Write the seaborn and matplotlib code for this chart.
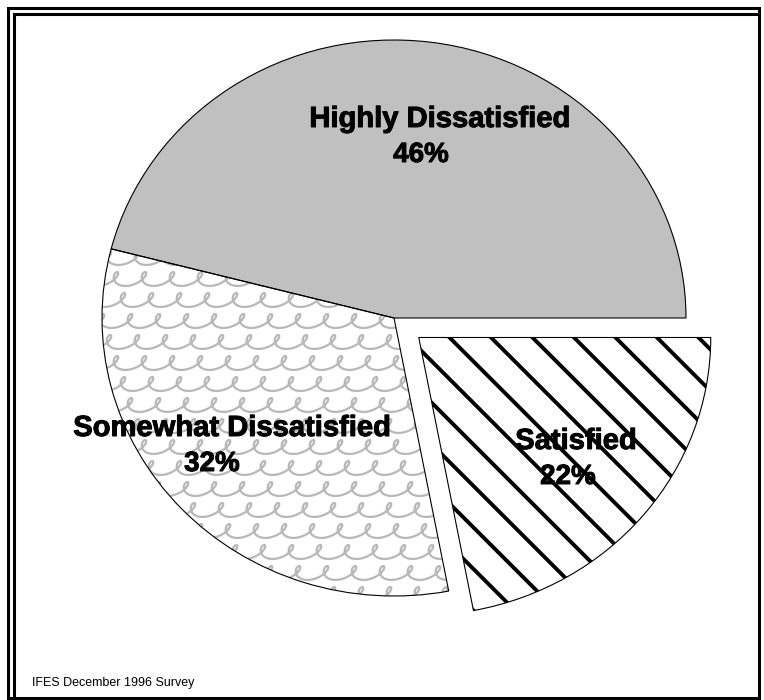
import numpy as np
import matplotlib
matplotlib.use("Agg")
import matplotlib.pyplot as plt
import seaborn as sns
from matplotlib.lines import Line2D
from matplotlib.patches import Wedge
import matplotlib.patheffects as pe

# Survey shares
categories = ["Highly Dissatisfied", "Somewhat Dissatisfied", "Satisfied"]
shares = [46, 32, 22]
explode = [0.0, 0.0, 0.11]
source_note = "IFES December 1996 Survey"

sns.set_theme(style="white")
plt.rcParams["font.family"] = ["Liberation Sans", "DejaVu Sans"]

W, H = 764, 700
fig = plt.figure(figsize=(W / 100, H / 100), dpi=100)
fig.patch.set_facecolor("white")
ax = fig.add_axes([0, 0, 1, 1])

# pie centre and radii in pixels (slightly flattened ellipse)
CX, CY, RX, RY = 394, 318, 292, 278

wedges, _ = ax.pie(shares, startangle=0, counterclock=True, explode=explode,
                   radius=1, colors=["#c0c0c0", "white", "white"],
                   wedgeprops=dict(linewidth=0, edgecolor="none"))
ax.set_aspect("auto")
ax.set_xlim(-CX / RX, (W - CX) / RX)
ax.set_ylim((CY - H) / RY, CY / RY)
ax.axis("off")


def px_to_data(xp, yp):
    return (np.asarray(xp, float) - CX) / RX, (CY - np.asarray(yp, float)) / RY


# curling wave texture for the middle slice
period, rowgap = 28.0, 21.0
t = np.linspace(0, 2 * np.pi * 20, 5000)
for i, y0 in enumerate(np.arange(195, 640, rowgap)):
    x0 = 60 + (i * 7) % period
    xp = x0 + period / (2 * np.pi) * t - 8.0 * np.sin(t)
    yp = y0 - 6.5 * np.cos(t) + 2.5 * np.sin(t)
    xd, yd = px_to_data(xp, yp)
    ln = Line2D(xd, yd, color="#b8b8b8", lw=1.6, zorder=2,
                solid_capstyle="round", solid_joinstyle="round")
    ax.add_line(ln)
    ln.set_clip_path(wedges[1])

# diagonal hatch for the exploded slice
for c in np.arange(112 - 41.5 * 9, 112 + 41.5 * 9, 41.5):
    yp = np.array([300.0, 660.0])
    xp = c + yp
    xd, yd = px_to_data(xp, yp)
    ln = Line2D(xd, yd, color="black", lw=2.8, zorder=2)
    ax.add_line(ln)
    ln.set_clip_path(wedges[2])

# slice outlines on top of the textures
for w in wedges:
    ax.add_patch(Wedge(w.center, w.r, w.theta1, w.theta2, fill=False,
                       edgecolor="black", linewidth=0.8, zorder=3))

# slice labels: name and share on two lines
name_pos = [(440, 119), (232, 428), (576, 441)]
pct_pos = [(421, 155), (212, 464), (568, 477)]
stroke = [pe.withStroke(linewidth=0.7, foreground="black")]
for name, share, npos, ppos in zip(categories, shares, name_pos, pct_pos):
    x, y = px_to_data(*npos)
    ax.text(x, y, name, ha="center", va="center", fontsize=21,
            fontweight="bold", color="black", zorder=5, path_effects=stroke)
    x, y = px_to_data(*ppos)
    ax.text(x, y, f"{share}%", ha="center", va="center", fontsize=20,
            fontweight="bold", color="black", zorder=5, path_effects=stroke)

fig.text(32 / W, 1 - 683 / H, source_note, ha="left", va="center",
         fontsize=9, color="black")

# double frame around the chart
def fx(p):
    return p / W


def fy(p):
    return 1 - p / H


lw_frame = 2.2
outer = [(8, 8), (759, 8), (759, 698), (8, 698), (8, 8)]
fig.add_artist(Line2D([fx(p[0]) for p in outer], [fy(p[1]) for p in outer],
                      color="black", lw=lw_frame, transform=fig.transFigure,
                      solid_joinstyle="miter"))
fig.add_artist(Line2D([fx(13.5), fx(13.5), fx(759)],
                      [fy(698), fy(13.5), fy(13.5)],
                      color="black", lw=lw_frame, transform=fig.transFigure,
                      solid_joinstyle="miter"))

fig.savefig("out.png", dpi=100, facecolor="white")
